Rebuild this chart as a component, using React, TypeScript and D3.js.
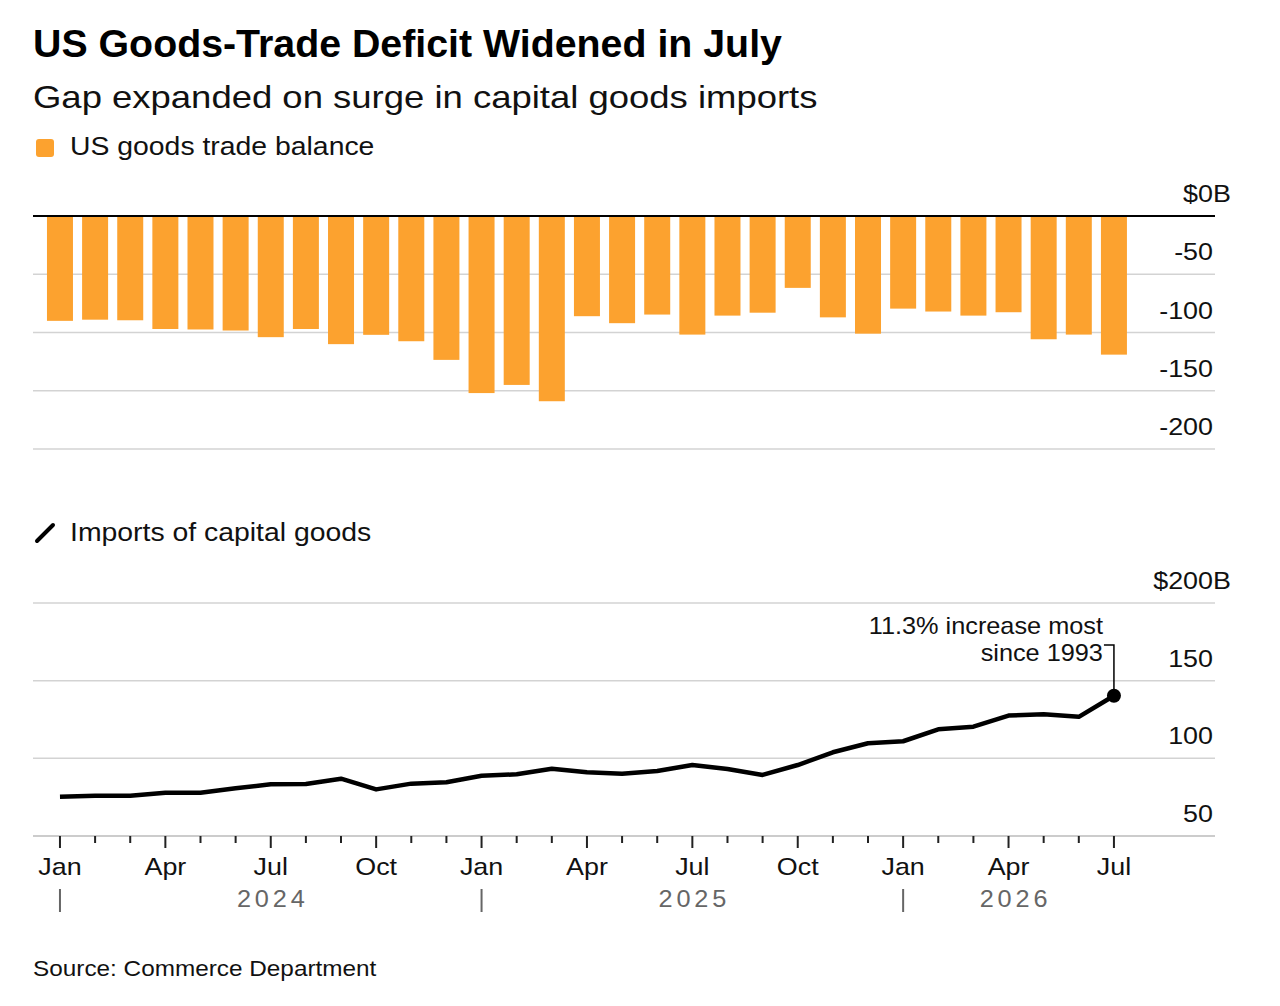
import { useEffect, useRef } from "react";
import * as d3 from "d3";

// monthly observations, Jan 2024 .. Jul 2026
const months = [
  "2024-01", "2024-02", "2024-03", "2024-04", "2024-05", "2024-06",
  "2024-07", "2024-08", "2024-09", "2024-10", "2024-11", "2024-12",
  "2025-01", "2025-02", "2025-03", "2025-04", "2025-05", "2025-06",
  "2025-07", "2025-08", "2025-09", "2025-10", "2025-11", "2025-12",
  "2026-01", "2026-02", "2026-03", "2026-04", "2026-05", "2026-06",
  "2026-07",
];

// US goods trade balance, $B
const tradeBalance = [
  -90, -89, -89.5, -97, -97.4, -98.3, -104, -97, -110, -102, -107.5, -123.5,
  -152, -145, -159, -86, -92, -84.6, -101.8, -85.5, -83, -61.7, -87, -101,
  -79.5, -82, -85.5, -82.6, -105.8, -101.8, -119,
];

// Imports of capital goods, $B
const capitalImports = [
  75.3, 75.9, 75.9, 77.9, 77.9, 80.7, 83.3, 83.5, 86.9, 80, 83.7, 84.6,
  88.8, 89.7, 93.3, 91, 90.1, 91.8, 95.7, 93.1, 89.3, 95.7, 103.9, 109.7,
  111, 118.7, 120.4, 127.5, 128.4, 126.7, 140.3,
];

const barTicks = [0, -50, -100, -150, -200];
const lineTicks = [50, 100, 150, 200];
const monthNames = ["Jan", "Feb", "Mar", "Apr", "May", "Jun", "Jul", "Aug", "Sep", "Oct", "Nov", "Dec"];
const years = ["2024", "2025", "2026"];

const W = 1280;
const H = 1006;
const FONT = "'Liberation Sans', Arial, Helvetica, sans-serif";
const ORANGE = "#FCA22F";

type Sel = d3.Selection<SVGGElement | SVGSVGElement, unknown, null, undefined>;

// text with a little horizontal stretch, the reference type runs wide
function label(
  parent: Sel,
  x: number,
  y: number,
  s: string,
  size: number,
  opts: { sx?: number; weight?: number; fill?: string; anchor?: string; ls?: number } = {}
) {
  return parent
    .append("text")
    .attr("transform", `translate(${x},${y}) scale(${opts.sx ?? 1.12},1)`)
    .attr("font-size", size)
    .attr("font-weight", opts.weight ?? 400)
    .attr("fill", opts.fill ?? "#111")
    .attr("text-anchor", opts.anchor ?? "start")
    .attr("letter-spacing", opts.ls ?? 0)
    .text(s);
}

export default function App() {
  const svgRef = useRef<SVGSVGElement>(null);

  useEffect(() => {
    if (!svgRef.current) return;
    const svg = d3.select(svgRef.current) as unknown as Sel;
    svg.selectAll("*").remove();
    svg.attr("font-family", FONT);

    const left = 33;
    const right = 1215;
    const labelX = 1213;

    // Header
    label(svg, 33, 57, "US Goods-Trade Deficit Widened in July", 38, { weight: 700, fill: "#000", sx: 1.035 });
    label(svg, 33, 108, "Gap expanded on surge in capital goods imports", 32, { sx: 1.14 });

    // Legend 1
    svg.append("rect").attr("x", 36).attr("y", 139).attr("width", 18).attr("height", 18)
      .attr("rx", 3).attr("fill", ORANGE);
    label(svg, 70, 155, "US goods trade balance", 25, { sx: 1.135 });

    // Shared x positions
    const x = d3.scaleBand<string>().domain(months).range([42.4, 1131.5]).paddingInner(0.26).paddingOuter(0.13);
    const cx = (m: string) => (x(m) ?? 0) + x.bandwidth() / 2;

    // Bar chart
    const yBar = d3.scaleLinear().domain([0, -200]).range([216, 449]);
    const gBar = svg.append("g") as unknown as Sel;

    gBar.selectAll("line.grid").data(barTicks.filter((t) => t !== 0)).join("line")
      .attr("class", "grid")
      .attr("x1", left).attr("x2", right)
      .attr("y1", (d) => yBar(d)).attr("y2", (d) => yBar(d))
      .attr("stroke", "#d3d3d3").attr("stroke-width", 1.5);

    gBar.selectAll("rect.bar").data(months).join("rect")
      .attr("class", "bar")
      .attr("x", (m) => x(m) ?? 0)
      .attr("width", x.bandwidth())
      .attr("y", yBar(0))
      .attr("height", (_, i) => yBar(tradeBalance[i]) - yBar(0))
      .attr("fill", ORANGE);

    gBar.append("line")
      .attr("x1", left).attr("x2", right)
      .attr("y1", yBar(0)).attr("y2", yBar(0))
      .attr("stroke", "#000").attr("stroke-width", 2);

    barTicks.forEach((t) => {
      label(gBar, labelX, yBar(t) - 14, t === 0 ? "$0" : String(t), 24, { anchor: "end" });
    });
    label(gBar, labelX, yBar(0) - 14, "B", 24);

    // Legend 2
    svg.append("line").attr("x1", 37).attr("y1", 541).attr("x2", 53).attr("y2", 525)
      .attr("stroke", "#000").attr("stroke-width", 4).attr("stroke-linecap", "round");
    label(svg, 70, 541, "Imports of capital goods", 25, { sx: 1.135 });

    // Line chart
    const yLine = d3.scaleLinear().domain([50, 200]).range([836, 603]);
    const gLine = svg.append("g") as unknown as Sel;

    gLine.selectAll("line.grid").data(lineTicks).join("line")
      .attr("class", "grid")
      .attr("x1", left).attr("x2", right)
      .attr("y1", (d) => yLine(d)).attr("y2", (d) => yLine(d))
      .attr("stroke", (d) => (d === 50 ? "#bbb" : "#d3d3d3")).attr("stroke-width", 1.5);

    lineTicks.forEach((t) => {
      label(gLine, labelX, yLine(t) - 14, t === 200 ? "$200" : String(t), 24, { anchor: "end" });
    });
    label(gLine, labelX, yLine(200) - 14, "B", 24);

    const line = d3.line<number>()
      .x((_, i) => cx(months[i]))
      .y((d) => yLine(d));
    gLine.append("path").datum(capitalImports)
      .attr("d", line)
      .attr("fill", "none").attr("stroke", "#000").attr("stroke-width", 4.5)
      .attr("stroke-linejoin", "round");

    // Annotation
    const last = capitalImports.length - 1;
    const ax = cx(months[last]);
    const ay = yLine(capitalImports[last]);
    gLine.append("path")
      .attr("d", `M${ax - 10},${645} H${ax} V${ay}`)
      .attr("fill", "none").attr("stroke", "#000").attr("stroke-width", 1.5);
    gLine.append("circle").attr("cx", ax).attr("cy", ay).attr("r", 7).attr("fill", "#000");
    label(gLine, ax - 11, 634, "11.3% increase most", 23, { anchor: "end", sx: 1.1 });
    label(gLine, ax - 11, 661, "since 1993", 23, { anchor: "end", sx: 1.1 });

    // X axis ticks
    const base = yLine(50);
    gLine.selectAll("line.xtick").data(months).join("line")
      .attr("class", "xtick")
      .attr("x1", cx).attr("x2", cx)
      .attr("y1", base)
      .attr("y2", (m) => ((+m.slice(5) - 1) % 3 === 0 ? base + 12 : base + 7))
      .attr("stroke", "#222").attr("stroke-width", 2);

    months
      .filter((m) => (+m.slice(5) - 1) % 3 === 0)
      .forEach((m) => {
        label(gLine, cx(m), 875, monthNames[+m.slice(5) - 1], 24, { anchor: "middle" });
      });

    // Year labels and separators
    years.forEach((yr) => {
      const inYear = months.filter((m) => m.startsWith(yr));
      const jan = inYear[0];
      const full = inYear.length === 12;
      const mid = full ? cx(`${yr}-07`) : (cx(jan) + cx(inYear[inYear.length - 1])) / 2 + 5;
      gLine.append("line")
        .attr("x1", cx(jan)).attr("x2", cx(jan))
        .attr("y1", 889).attr("y2", 912)
        .attr("stroke", "#666").attr("stroke-width", 2);
      label(gLine, mid + 2, 907, yr, 23, { anchor: "middle", fill: "#666", ls: 3.5, sx: 1.1 });
    });

    // Source
    label(svg, 33, 976, "Source: Commerce Department", 22, { sx: 1.106 });
  }, []);

  return (
    <div style={{ position: "absolute", left: 0, top: 0, background: "#fff" }}>
      <svg ref={svgRef} width={W} height={H} style={{ display: "block" }} />
    </div>
  );
}
